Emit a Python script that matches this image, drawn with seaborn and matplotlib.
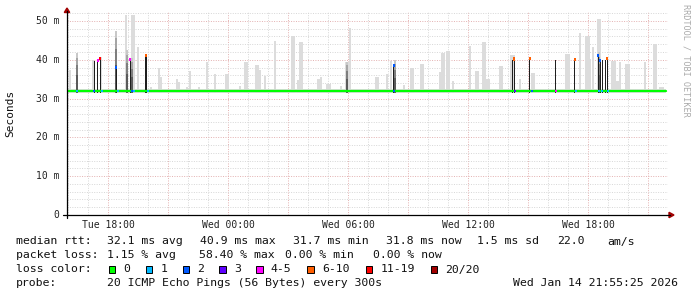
import matplotlib
matplotlib.use("Agg")
import matplotlib.pyplot as plt
import pandas as pd
import seaborn as sns
from matplotlib.lines import Line2D
from matplotlib.patches import Polygon, Rectangle

# ---------------- data ----------------
x_tick_hours = [18, 24, 30, 36, 42]
x_tick_labels = ["Tue 18:00", "Wed 00:00", "Wed 06:00", "Wed 12:00", "Wed 18:00"]
y_tick_ms = [0, 10, 20, 30, 40, 50]
y_tick_labels = ["0", "10 m", "20 m", "30 m", "40 m", "50 m"]

median_hours = [15.95, 45.9]
median_ms = [31.9, 31.9]
smoke_floor_ms = 31.4
smoke_band_top_ms = 32.5

light_smoke_hours = [16.1, 17.25, 17.65, 18.9, 19.25, 19.5, 20.15, 20.55, 20.65, 21.45,
                     21.55, 21.95, 22.1, 22.55, 22.95, 23.35, 23.95, 24.6, 24.9, 25.45,
                     25.6, 25.85, 26.35, 27.25, 27.5, 27.65, 28.55, 28.65, 29.0, 29.65,
                     29.95, 30.1, 31.45, 31.95, 32.15, 32.8, 33.2, 33.7, 34.6, 34.75,
                     35.0, 35.25, 36.1, 36.45, 36.8, 37.0, 37.65, 38.2, 38.6, 39.25,
                     40.95, 41.6, 41.95, 42.1, 42.25, 42.55, 43.25, 43.45, 43.6, 43.95,
                     44.85, 45.35, 45.65]
light_smoke_top = [37.4, 40.0, 40.8, 51.6, 51.6, 43.4, 33.0, 37.9, 35.6, 35.1,
                   34.3, 33.0, 37.2, 33.0, 39.3, 36.3, 36.2, 33.2, 39.5, 38.7,
                   37.4, 35.8, 44.8, 46.0, 34.8, 44.6, 35.0, 35.6, 33.8, 33.2,
                   39.5, 48.2, 35.6, 36.3, 39.8, 33.6, 38.0, 38.9, 36.9, 41.8,
                   42.3, 34.6, 43.6, 37.2, 44.6, 35.0, 38.4, 41.3, 35.0, 36.5,
                   41.5, 46.8, 46.0, 40.3, 43.4, 50.6, 39.8, 34.6, 39.5, 39.0,
                   39.3, 44.1, 33.0]
light_smoke_samples = [1, 1, 1, 1, 2, 1, 1, 1, 1, 1,
                       1, 1, 1, 1, 1, 1, 2, 1, 2, 2,
                       1, 1, 1, 2, 1, 2, 2, 1, 3, 1,
                       2, 1, 2, 1, 1, 1, 2, 2, 1, 2,
                       2, 1, 1, 2, 2, 2, 2, 3, 1, 2,
                       3, 1, 3, 1, 1, 2, 3, 2, 1, 3,
                       1, 2, 3]

dark_smoke_hours = [16.45, 18.42, 18.95, 19.22, 29.95, 32.35, 42.55]
dark_smoke_top = [41.8, 47.5, 42.5, 40.4, 39.5, 40.0, 42.0]

black_hours = [17.3, 17.48, 17.6, 18.4, 19.1, 19.87, 19.95, 32.25, 38.2, 38.3,
               39.075, 40.365, 41.335, 42.5, 42.6, 42.7, 42.865, 42.965]
black_top = [39.8, 40.2, 40.5, 37.9, 40.0, 41.0, 41.0, 38.7, 40.0, 40.2,
             40.5, 40.0, 40.0, 40.8, 40.0, 40.0, 40.0, 40.3]

top_marker_hours = [17.48, 17.6, 18.4, 19.1, 19.9, 32.32, 38.3, 39.075, 41.335, 42.52, 42.62, 42.965]
top_marker_ms = [39.9, 40.3, 37.9, 40.0, 41.0, 38.6, 40.2, 40.4, 40.1, 41.0, 39.9, 40.4]
top_marker_loss = ["4-5", "11-19", "2", "4-5", "6-10", "2", "6-10", "6-10", "6-10", "2", "2", "6-10"]

base_marker_hours = [16.46, 17.3, 17.7, 18.5, 19.18, 19.3, 19.99, 32.3, 38.33, 39.2,
                     40.4, 41.4, 42.55, 42.7, 43.0]
base_marker_loss = ["1", "2", "1", "1", "2", "1", "1", "2", "3", "2",
                    "4-5", "1", "1", "1", "1"]

loss_labels = ["0", "1", "2", "3", "4-5", "6-10", "11-19", "20/20"]
loss_colors = ["#00ff00", "#00b8ff", "#0059ff", "#5e00ff", "#ff00ff", "#ff5e00", "#ff0000", "#a10000"]

stats_rtt = ["median rtt:", "32.1 ms avg", "40.9 ms max", "31.7 ms min", "31.8 ms now",
             "1.5 ms sd", "22.0", "am/s"]
stats_loss = ["packet loss:", "1.15 % avg", "58.40 % max", "0.00 % min", "0.00 % now"]
probe_text = "20 ICMP Echo Pings (56 Bytes) every 300s"
stamp_text = "Wed Jan 14 21:55:25 2026"

# ---------------- figure ----------------
sns.set_theme(style="white")
plt.rcParams["font.family"] = ["DejaVu Sans Mono", "DejaVu Sans"]

W, H = 697, 297
fig = plt.figure(figsize=(W / 100, H / 100), dpi=100)
fig.patch.set_facecolor("white")


def fx(x):
    return x / W


def fy(y):
    return 1 - y / H


ax = fig.add_axes([fx(67), fy(215), (668 - 67) / W, (215 - 12) / H])
ax.set_facecolor("white")
ax.set_xlim(15.95, 46.0)
ax.set_ylim(0, 52.3)
for s in ax.spines.values():
    s.set_visible(False)
ax.set_xticks([])
ax.set_yticks([])

# grid
minor_c = "#d6d6d6"
major_c = "#e3b0b0"
dots = (0, (1, 1.5))
for h in range(16, 46):
    major = (h % 3 == 0)
    ax.axvline(h, color=major_c if major else minor_c, lw=0.7, ls=dots, zorder=0)
for m in range(2, 53, 2):
    major = (m % 10 == 0)
    ax.axhline(m, color=major_c if major else minor_c, lw=0.7, ls=dots, zorder=0)

sample_h = 1 / 12.0

# smoke baseline band
ax.fill_between(median_hours, smoke_floor_ms, smoke_band_top_ms, color="#dedede", lw=0, zorder=1)

# light smoke
ls = pd.DataFrame({"h": light_smoke_hours, "top": light_smoke_top, "n": light_smoke_samples})
ax.bar(ls["h"], ls["top"] - smoke_floor_ms, bottom=smoke_floor_ms,
       width=ls["n"] * sample_h, color="#dcdcdc", lw=0, zorder=2, antialiased=False)

# darker smoke (layered)
for h, top in zip(dark_smoke_hours, dark_smoke_top):
    span = top - smoke_floor_ms
    shades = ["#5a5a5a", "#7e7e7e", "#a5a5a5", "#c8c8c8"]
    fracs = [0.0, 0.45, 0.7, 0.88, 1.0]
    for i, c in enumerate(shades):
        ax.bar([h], [span * (fracs[i + 1] - fracs[i])], bottom=smoke_floor_ms + span * fracs[i],
               width=sample_h * 1.2, color=c, lw=0, zorder=3, antialiased=False)

# black smoke bars
ax.bar(black_hours, [t - smoke_floor_ms for t in black_top], bottom=smoke_floor_ms,
       width=0.05, color="#1e1e1e", lw=0, zorder=4, antialiased=False)

# median line (loss 0)
med = pd.DataFrame({"hours": median_hours, "ms": median_ms})
sns.lineplot(data=med, x="hours", y="ms", color=loss_colors[0], lw=1.6, ax=ax, zorder=5)
ax.set_xlabel("")
ax.set_ylabel("")
ax.set_xlim(15.95, 46.0)
ax.set_ylim(0, 52.3)

cmap = dict(zip(loss_labels, loss_colors))
ax.bar(base_marker_hours, 0.6, bottom=31.6, width=0.1,
       color=[cmap[l] for l in base_marker_loss], lw=0, zorder=6, antialiased=False)
ax.bar(top_marker_hours, 0.8, bottom=[m - 0.4 for m in top_marker_ms], width=0.1,
       color=[cmap[l] for l in top_marker_loss], lw=0, zorder=6, antialiased=False)

# axes lines and arrows
fig.add_artist(Line2D([fx(67), fx(67)], [fy(218), fy(11)], color="black", lw=0.9))
fig.add_artist(Line2D([fx(63), fx(670)], [fy(215), fy(215)], color="black", lw=0.9))
fig.add_artist(Polygon([(fx(64.3), fy(12.5)), (fx(69.7), fy(12.5)), (fx(67), fy(8))],
                       closed=True, color="#a00000", transform=fig.transFigure))
fig.add_artist(Polygon([(fx(669), fy(212.3)), (fx(669), fy(217.7)), (fx(674), fy(215))],
                       closed=True, color="#a00000", transform=fig.transFigure))

# tick labels
for h, lab in zip(x_tick_hours, x_tick_labels):
    px = 67 + (h - 15.95) * 20
    fig.text(fx(px), fy(224.5), lab, ha="center", va="center", fontsize=7, color="#222222")
for m, lab in zip(y_tick_ms, y_tick_labels):
    py = 215 - m * (203 / 52.3)
    fig.text(fx(59.5), fy(py), lab, ha="right", va="center", fontsize=7, color="#222222")

fig.text(fx(10), fy(113), "Seconds", rotation=90, ha="center", va="center",
         fontsize=8.0, color="#111111")
fig.text(fx(686), fy(4), "RRDTOOL / TOBI OETIKER", rotation=270, ha="center", va="top",
         fontsize=6.1, color="#aaaaaa")

# legend / stats
fs = 8.25
tc = "#111111"
rtt_x = [16, 107.3, 200, 293.3, 386, 477.3, 557.3, 607.3]
for x, t in zip(rtt_x, stats_rtt):
    fig.text(fx(x), fy(241.5), t, ha="left", va="center", fontsize=fs, color=tc)
loss_x = [16, 107.3, 199.3, 285.3, 372.7]
for x, t in zip(loss_x, stats_loss):
    fig.text(fx(x), fy(255.5), t, ha="left", va="center", fontsize=fs, color=tc)

fig.text(fx(16), fy(269.5), "loss color:", ha="left", va="center", fontsize=fs, color=tc)
box_x = [108.7, 145.7, 182.7, 219.3, 256, 307.3, 366, 430.7]
for x, lab, c in zip(box_x, loss_labels, loss_colors):
    fig.add_artist(Rectangle((fx(x), fy(273)), 6.5 / W, 7 / H, facecolor=c,
                             edgecolor="black", lw=0.7, transform=fig.transFigure))
    fig.text(fx(x + 14.5), fy(269.5), lab, ha="left", va="center", fontsize=fs, color=tc)

fig.text(fx(16), fy(283.5), "probe:", ha="left", va="center", fontsize=fs, color=tc)
fig.text(fx(107.3), fy(283.5), probe_text, ha="left", va="center", fontsize=fs, color=tc)
fig.text(fx(513.3), fy(283.5), stamp_text, ha="left", va="center", fontsize=fs, color=tc)

fig.savefig("out.png", dpi=100, facecolor="white")
